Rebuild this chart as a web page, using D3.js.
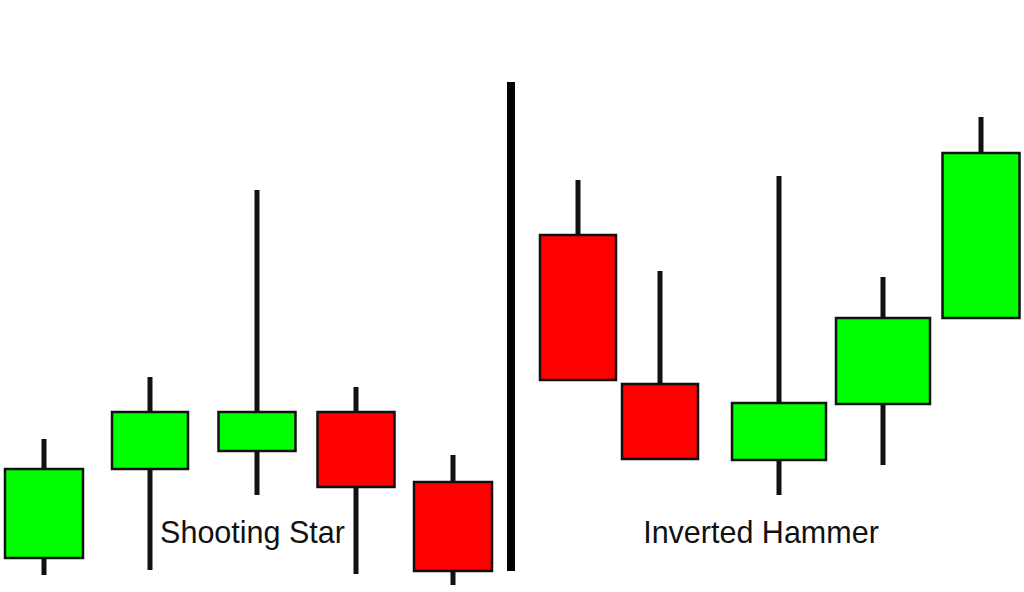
<!DOCTYPE html>
<html>
<head>
<meta charset="utf-8">
<script src="https://cdn.jsdelivr.net/npm/d3@7"></script>
<style>
  html, body { margin: 0; padding: 0; background: #ffffff; }
  svg { display: block; }
</style>
</head>
<body>
<script>
// ---- data ----
const times  = [4.4, 15.0, 25.7, 35.6, 45.3, 57.8, 66.0, 77.9, 88.3, 98.1];
const widths = [7.8, 7.6, 7.7, 7.7, 7.8, 7.6, 7.6, 9.4, 9.4, 7.7];
const opens  = [8.4, 26.2, 29.8, 37.6, 23.6, 73.0, 43.2, 28.0, 39.2, 56.4];
const highs  = [32.2, 44.6, 82.0, 42.6, 29.0, 84.0, 65.8, 84.8, 64.6, 96.6];
const lows   = [5.0, 6.0, 21.0, 5.2, 3.0, 44.0, 28.2, 21.0, 27.0, 56.4];
const closes = [26.2, 37.6, 37.6, 22.6, 5.8, 44.0, 28.2, 39.4, 56.4, 89.4];
const dividerTime = 51.1;
const dividerRange = [5.8, 103.6];
const labels = ["Shooting Star", "Inverted Hammer"];
const labelTimes = [25.25, 76.1];
const labelPrice = 11.4;

const W = 1024, H = 592;
const x = d3.scaleLinear().domain([0, 102.4]).range([0, W]);
const y = d3.scaleLinear().domain([0, 120]).range([600, 0]);

const candles = times.map((t, i) => ({
  t, w: widths[i], o: opens[i], h: highs[i], l: lows[i], c: closes[i]
}));

const svg = d3.select("body").append("svg").attr("width", W).attr("height", H);
svg.append("rect").attr("width", W).attr("height", H).attr("fill", "#fff");

// divider
svg.append("line")
  .attr("x1", x(dividerTime)).attr("x2", x(dividerTime))
  .attr("y1", y(dividerRange[1])).attr("y2", y(dividerRange[0]))
  .attr("stroke", "#000").attr("stroke-width", 8);

// wicks
svg.append("g").selectAll("line").data(candles).join("line")
  .attr("x1", d => x(d.t)).attr("x2", d => x(d.t))
  .attr("y1", d => y(d.h)).attr("y2", d => y(d.l))
  .attr("stroke", "#111").attr("stroke-width", 5);

// bodies
svg.append("g").selectAll("rect").data(candles).join("rect")
  .attr("x", d => x(d.t - d.w / 2))
  .attr("width", d => x(d.w) - x(0))
  .attr("y", d => y(Math.max(d.o, d.c)))
  .attr("height", d => Math.abs(y(d.o) - y(d.c)))
  .attr("fill", d => d.c >= d.o ? "#00ff00" : "#ff0000")
  .attr("stroke", "#111").attr("stroke-width", 2.5);

// labels
svg.append("g").selectAll("text").data(labels).join("text")
  .attr("x", (d, i) => x(labelTimes[i]))
  .attr("y", y(labelPrice))
  .attr("text-anchor", "middle")
  .attr("font-family", "'Liberation Sans', Arial, sans-serif")
  .attr("font-size", 30.5)
  .attr("fill", "#111")
  .text(d => d);
</script>
</body>
</html>
